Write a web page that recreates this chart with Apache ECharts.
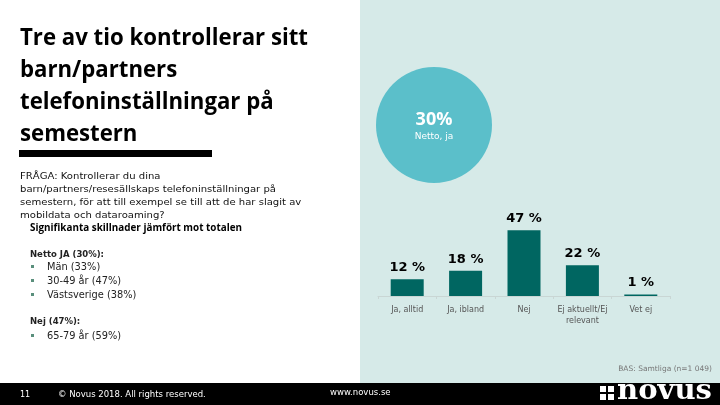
<!DOCTYPE html>
<html><head><meta charset="utf-8">
<script src="https://cdn.jsdelivr.net/npm/echarts@6/dist/echarts.min.js"></script>
<style>html,body{margin:0;padding:0;background:#fff}#c{width:720px;height:405px}</style>
</head><body><div id="c"></div>
<script>
const categories = ['Ja, alltid', 'Ja, ibland', 'Nej', 'Ej aktuellt/Ej\nrelevant', 'Vet ej'];
const values = [12, 18, 47, 22, 1];
const nettoJa = 30;
const titleLines = ['Tre av tio kontrollerar sitt', 'barn/partners', 'telefoninställningar på', 'semestern'];
const questionLines = ['FRÅGA: Kontrollerar du dina', 'barn/partners/resesällskaps telefoninställningar på', 'semestern, för att till exempel se till att de har slagit av', 'mobildata och dataroaming?'];
const sigTitle = 'Signifikanta skillnader jämfört mot totalen';
const nettoHeader = 'Netto JA (30%):';
const nettoItems = ['Män (33%)', '30-49 år (47%)', 'Västsverige (38%)'];
const nejHeader = 'Nej (47%):';
const nejItems = ['65-79 år (59%)'];
const baseText = 'BAS: Samtliga (n=1 049)';

const chart = echarts.init(document.getElementById('c'));

function measure(font, txt){const c=document.createElement('canvas').getContext('2d');c.font=font;return c.measureText(txt).width;}
const titleFont = 'bold 24px "Open Sans"';
const tScale = 288 / measure(titleFont, titleLines[0]);
const qFont = '9.5px "DejaVu Sans"';
const qScale = 256 / measure(qFont, questionLines[1]);
const sFont = 'bold 11px "Open Sans"';
const sScale = 212 / measure(sFont, sigTitle);
const logoFont = 'bold 22px "DejaVu Serif"';
const lScale = 95 / measure(logoFont, 'novus');

const g = [];
g.push({type:'rect', shape:{x:360,y:0,width:360,height:383}, style:{fill:'#d6eae8'}, z:-10});
g.push({type:'rect', shape:{x:0,y:383,width:720,height:22}, style:{fill:'#000'}, z:-10});
titleLines.forEach((t,i)=>g.push({type:'text', x:20, y:38+i*32, scaleX:tScale, originX:0, style:{text:t, font:titleFont, fill:'#000', textVerticalAlign:'middle'}}));
g.push({type:'rect', shape:{x:19,y:150,width:193,height:7}, style:{fill:'#000'}});
questionLines.forEach((t,i)=>g.push({type:'text', x:20, y:177+i*12.7, scaleX:qScale, originX:0, style:{text:t, font:qFont, fill:'#111', textVerticalAlign:'middle'}}));
g.push({type:'text', x:30, y:228, scaleX:sScale, originX:0, style:{text:sigTitle, font:sFont, fill:'#000', textVerticalAlign:'middle'}});
const lf = '9.8px "DejaVu Sans"';
g.push({type:'text', x:30, y:255, style:{text:nettoHeader, font:'bold 8.5px "DejaVu Sans"', fill:'#222', textVerticalAlign:'middle'}});
nettoItems.forEach((t,i)=>{
  g.push({type:'rect', shape:{x:31,y:265+i*14,width:3,height:3}, style:{fill:'#5a8f7c'}});
  g.push({type:'text', x:47, y:267+i*14, style:{text:t, font:lf, fill:'#222', textVerticalAlign:'middle'}});
});
g.push({type:'text', x:30, y:322, style:{text:nejHeader, font:'bold 8.5px "DejaVu Sans"', fill:'#222', textVerticalAlign:'middle'}});
nejItems.forEach((t,i)=>{
  g.push({type:'rect', shape:{x:31,y:334+i*14,width:3,height:3}, style:{fill:'#5a8f7c'}});
  g.push({type:'text', x:47, y:336+i*14, style:{text:t, font:lf, fill:'#222', textVerticalAlign:'middle'}});
});
g.push({type:'circle', shape:{cx:434,cy:125,r:58}, style:{fill:'#5bbfca'}});
g.push({type:'text', x:434, y:120, style:{text:nettoJa+'%', font:'bold 18px "Open Sans"', fill:'#fff', textAlign:'center', textVerticalAlign:'middle'}});
g.push({type:'text', x:434, y:137, style:{text:'Netto, ja', font:'9px "DejaVu Sans"', fill:'#fff', textAlign:'center', textVerticalAlign:'middle'}});
g.push({type:'text', x:712, y:369, style:{text:baseText, font:'7.5px "DejaVu Sans"', fill:'#777', textAlign:'right', textVerticalAlign:'middle'}});
g.push({type:'text', x:20, y:395, style:{text:'11', font:'8px "DejaVu Sans"', fill:'#fff', textVerticalAlign:'middle'}});
g.push({type:'text', x:58, y:395, style:{text:'© Novus 2018. All rights reserved.', font:'8.5px "DejaVu Sans"', fill:'#fff', textVerticalAlign:'middle'}});
g.push({type:'text', x:330, y:393, style:{text:'www.novus.se', font:'8.5px "DejaVu Sans"', fill:'#fff', textVerticalAlign:'middle'}});
[[600,386],[608,386],[600,394],[608,394]].forEach(p=>g.push({type:'rect', shape:{x:p[0],y:p[1],width:6,height:6}, style:{fill:'#fff'}}));
g.push({type:'text', x:617, y:392, scaleX:lScale, scaleY:1.3, originX:0, originY:0, style:{text:'novus', font:logoFont, fill:'#fff', textVerticalAlign:'middle'}});

chart.setOption({
  animation:false,
  grid:{left:378, width:292, top:226, height:70},
  xAxis:{type:'category', data:categories,
    axisLine:{lineStyle:{color:'#c9d6d4', width:1}},
    axisTick:{show:true, length:3, lineStyle:{color:'#c9d6d4'}},
    axisLabel:{interval:0, color:'#555', fontSize:8, fontFamily:'DejaVu Sans', margin:8, lineHeight:11}},
  yAxis:{type:'value', min:0, max:50, show:false, splitLine:{show:false}},
  series:[{type:'bar', data:values, barWidth:33, itemStyle:{color:'#006661'},
    label:{show:true, position:'top', distance:5, formatter:'{c} %', color:'#000', fontSize:13, fontWeight:'bold', fontFamily:'DejaVu Sans'}}],
  graphic:g
});
</script></body></html>
